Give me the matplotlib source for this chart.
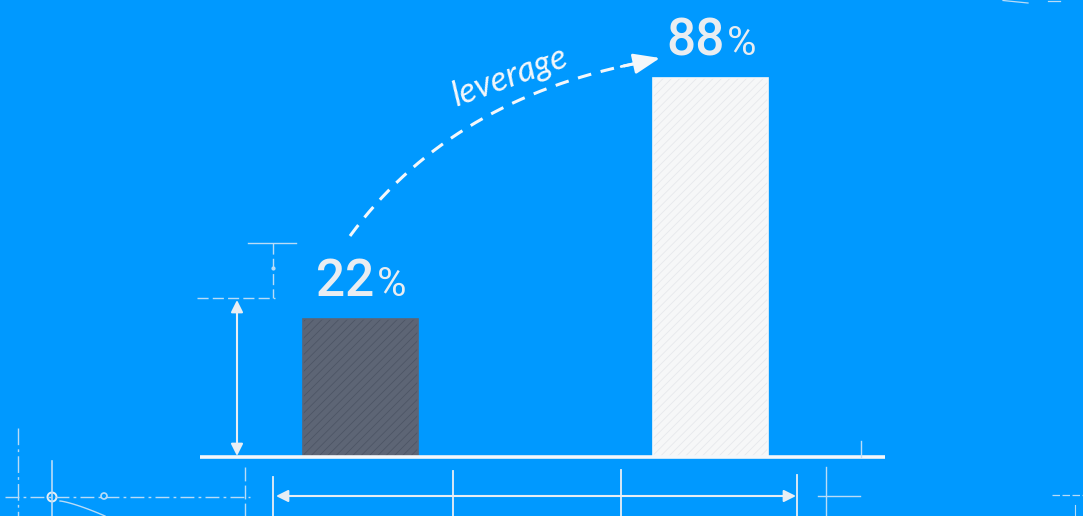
import numpy as np
import matplotlib
matplotlib.use("Agg")
import matplotlib.pyplot as plt
from matplotlib.patches import Circle

# ---- data ----
categories = ["before", "after"]
bar_heights = [32, 88]          # drawn heights
value_labels = ["22", "88"]
annotation_text = "leverage"

BG = "#0099ff"
W, H = 1083, 516
fig = plt.figure(figsize=(W / 100, H / 100), dpi=100, facecolor=BG)

# main axes: bars
ax = fig.add_axes([0, 0, 1, 1])
ax.set_facecolor(BG)
pxu = 379 / 88.0  # pixels per unit
ax.set_ylim(-(H - 457) / pxu, 457 / pxu)
ax.set_xlim(-360 / 350, (W - 360) / 350)
ax.axis("off")

plt.rcParams["hatch.linewidth"] = 0.6
colors = ["#5d6575", "#f6f7f8"]
hatch_cols = ["#4d5565", "#e6e8ec"]
xs = np.arange(len(categories))
for i, (h, c, hc) in enumerate(zip(bar_heights, colors, hatch_cols)):
    ax.bar(xs[i], h, width=115 / 350, color=c, edgecolor=hc, hatch="////",
           linewidth=0, zorder=2)
    ax.bar(xs[i], h, width=115 / 350, color="none", edgecolor=c,
           linewidth=1.2, zorder=3)
    ax.annotate(value_labels[i], xy=(xs[i], h), xytext=(10.5, 16.5),
                textcoords="offset points", ha="right", va="baseline",
                fontsize=37, fontweight="medium", family="Roboto",
                color="#e9edf1", zorder=4)
    ax.annotate("%", xy=(xs[i], h), xytext=(12.5, 16.5),
                textcoords="offset points", ha="left", va="baseline",
                fontsize=29, fontweight="normal", family="Roboto",
                color="#e9edf1", zorder=4)

# overlay axes in pixel coordinates for decorations
ov = fig.add_axes([0, 0, 1, 1], zorder=5)
ov.set_xlim(0, W)
ov.set_ylim(H, 0)
ov.axis("off")
ov.patch.set_visible(False)

LC = "#e8eef4"
FC = "#b9dcf7"  # faint lines

# baseline
ov.plot([200, 885], [457, 457], color="#f4f7fa", lw=2.6, solid_capstyle="butt")
ov.plot([861, 861], [441, 457], color=FC, lw=1)

# left dimension
ov.annotate("", xy=(237, 300), xytext=(237, 456),
            arrowprops=dict(arrowstyle="<|-|>", color=LC, lw=1.5,
                            mutation_scale=18, shrinkA=0, shrinkB=0))
ov.plot([197, 275], [298, 298], color=FC, lw=1, ls=(0, (8, 3)))
ov.plot([273, 273], [243, 298], color=FC, lw=1, ls=(0, (8, 3)))
ov.plot([248, 296], [243, 243], color=FC, lw=1)
ov.plot([273], [268], marker="o", ms=2, color=FC)

# bottom dimension
ov.annotate("", xy=(276, 496), xytext=(796, 496),
            arrowprops=dict(arrowstyle="<|-|>", color=LC, lw=1.5,
                            mutation_scale=18, shrinkA=0, shrinkB=0))
for x0, y0 in [(273, 477), (453, 471), (621, 470), (797, 475)]:
    ov.plot([x0, x0], [y0, H], color=LC, lw=1.3)
ov.plot([826, 826], [467, H], color=FC, lw=1)
ov.plot([818, 860], [496, 496], color=FC, lw=1)

# lower-left construction marks
ov.plot([5, 250], [497, 497], color=FC, lw=1, ls=(0, (10, 3, 2, 3)))
ov.plot([18, 18], [428, H], color=FC, lw=1, ls=(0, (12, 3, 2, 3)))
ov.plot([52, 52], [461, H], color=FC, lw=1.2)
ov.plot([245, 245], [467, H], color=FC, lw=1, ls=(0, (10, 3)))
ov.add_patch(Circle((52, 497), 4.5, fill=False, ec=LC, lw=1.4))
ov.add_patch(Circle((104, 496), 3, fill=False, ec=FC, lw=1.2))
t = np.linspace(0, 1, 30)
ov.plot(60 + 45 * t, 501 + 15 * t ** 1.3, color=FC, lw=1)

# right-side faint marks
ov.plot([1052, 1083], [495, 495], color=FC, lw=0.9, ls=(0, (6, 2)))
ov.plot([1075, 1075], [505, H], color=FC, lw=0.8)
tt = np.linspace(0, 1, 20)
ov.plot(1003 + 25 * tt, 0.5 + 2.5 * tt, color=FC, lw=0.9)
ov.plot([1048, 1060], [0.5, 0.5], color=FC, lw=0.9)

# dashed curved arrow
P0 = np.array([350, 236])
P1 = np.array([450, 100])
P2 = np.array([638, 63])
tb = np.linspace(0, 1, 200)[:, None]
curve = (1 - tb) ** 2 * P0 + 2 * (1 - tb) * tb * P1 + tb ** 2 * P2
ov.plot(curve[:, 0], curve[:, 1], color="#f4f7fa", lw=2.2, ls=(0, (4.5, 3.2)),
        solid_capstyle="butt")
ov.annotate("", xy=(660, 58), xytext=(curve[-10, 0], curve[-10, 1]),
            arrowprops=dict(arrowstyle="-|>,head_length=0.9,head_width=0.35",
                            color="#f4f7fa", lw=2, mutation_scale=18,
                            shrinkA=0, shrinkB=0))

ov.text(510, 76, annotation_text, rotation=20, ha="center", va="center",
        fontsize=25, style="italic", fontweight="normal", family="Lato",
        color="#f4f7fa")

fig.savefig("out.png", dpi=100, facecolor=BG)
